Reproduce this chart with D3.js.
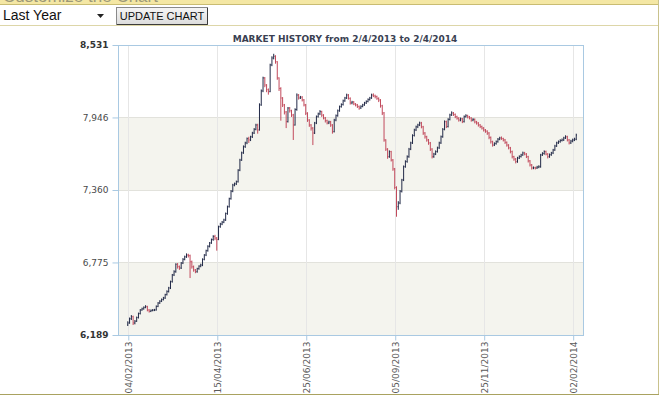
<!DOCTYPE html>
<html>
<head>
<meta charset="utf-8">
<script src="https://cdn.jsdelivr.net/npm/d3@7"></script>
<style>
  body { margin: 0; background: #fff; overflow: hidden; }
  svg { display: block; }
</style>
</head>
<body>
<svg id="market-history"></svg>
<script>
////////////////////////////////////////////////////////////////////////////////
/////////////////////////////////////////////////////////////////// Chart values
////////////////////////////////////////////////////////////////////////////////

// Title of the chart
const chartTitle = "MARKET HISTORY from 2/4/2013 to 2/4/2014";

// Tick labels (x is a trading-day index, not calendar time)
const xTickIndex = [0, 50, 100, 150, 200, 250];
const xTickLabels = ["04/02/2013", "15/04/2013", "25/06/2013", "05/09/2013", "25/11/2013", "02/02/2014"];
const yTickValues = [6189, 6775, 7360, 7946, 8531];

// Daily bars
const openValues = [
  6270,6286,6320,6337,6286,6300,6330,6362,6391,6400,
  6412,6418,6391,6380,6388,6390,6391,6420,6447,6462,
  6475,6488,6515,6540,6569,6620,6674,6700,6760,6741,
  6730,6770,6800,6820,6835,6830,6781,6740,6714,6700,
  6725,6745,6754,6800,6835,6870,6905,6932,6960,6985,
  6972,6960,7064,7085,7100,7118,7170,7225,7290,7350,
  7400,7410,7427,7520,7602,7660,7710,7740,7775,7764,
  7790,7820,7850,7885,7845,8047,8160,8265,8208,8170,
  8154,8370,8426,8440,8396,8265,8180,8103,8047,7990,
  7912,8022,8000,7966,7885,8010,8127,8103,8110,8087,
  8047,7980,7925,7885,7860,7820,7901,7952,7975,7993,
  7965,7941,7920,7901,7910,7885,7831,7925,7960,8000,
  8033,8050,8080,8103,8127,8100,8063,8070,8055,8047,
  8035,8022,8035,8047,8063,8075,8090,8103,8127,8120,
  8114,8100,8087,8040,7982,7764,7690,7629,7670,7602,
  7530,7380,7225,7255,7350,7441,7548,7590,7629,7690,
  7740,7800,7845,7870,7885,7901,7870,7820,7790,7764,
  7740,7690,7629,7650,7670,7700,7740,7790,7850,7912,
  7872,7930,7966,7982,7970,7952,7940,7925,7935,7912,
  7952,7960,7950,7941,7925,7930,7910,7901,7885,7872,
  7860,7845,7835,7820,7785,7750,7723,7735,7750,7770,
  7780,7775,7764,7745,7723,7700,7670,7629,7610,7589,
  7618,7630,7643,7659,7650,7629,7595,7562,7538,7540,
  7538,7545,7548,7643,7655,7670,7650,7629,7645,7659,
  7683,7715,7740,7750,7760,7764,7780,7790,7764,7740,
  7755,7764,7770
];
const highValues = [
  6300,6330,6350,6345,6310,6338,6370,6398,6410,6420,
  6430,6425,6398,6395,6398,6400,6428,6455,6470,6484,
  6497,6522,6550,6578,6628,6682,6712,6768,6770,6750,
  6778,6810,6830,6848,6845,6838,6790,6750,6722,6732,
  6752,6765,6808,6842,6878,6914,6940,6968,6995,6998,
  6980,7072,7095,7110,7128,7178,7234,7298,7360,7410,
  7420,7436,7528,7612,7670,7720,7750,7784,7790,7798,
  7830,7860,7895,7895,8060,8172,8275,8272,8215,8180,
  8380,8440,8460,8448,8400,8270,8190,8110,8055,7998,
  8030,8030,8008,7975,8020,8140,8135,8120,8118,8095,
  8055,7988,7932,7892,7868,7910,7962,7985,8005,8000,
  7972,7950,7928,7920,7918,7892,7935,7970,8010,8042,
  8060,8090,8112,8138,8135,8108,8080,8078,8062,8055,
  8042,8044,8056,8072,8084,8100,8112,8138,8140,8130,
  8122,8108,8094,8048,7990,7770,7698,7680,7676,7610,
  7538,7390,7270,7360,7450,7558,7600,7640,7700,7750,
  7810,7855,7880,7895,7912,7910,7878,7828,7798,7772,
  7748,7698,7660,7680,7710,7750,7800,7860,7922,7920,
  7940,7976,7995,7990,7978,7960,7948,7945,7942,7962,
  7972,7968,7958,7948,7940,7938,7918,7908,7892,7880,
  7868,7852,7842,7828,7792,7758,7745,7760,7780,7790,
  7792,7782,7772,7752,7730,7708,7678,7636,7618,7628,
  7640,7652,7670,7668,7658,7636,7602,7570,7550,7548,
  7555,7560,7652,7665,7680,7678,7658,7655,7668,7692,
  7725,7750,7760,7770,7776,7790,7802,7798,7772,7765,
  7775,7782,7815
];
const lowValues = [
  6262,6280,6310,6270,6275,6295,6322,6355,6385,6394,
  6405,6380,6370,6374,6380,6382,6386,6414,6440,6455,
  6468,6480,6508,6532,6560,6612,6665,6692,6725,6715,
  6722,6762,6792,6812,6815,6649,6725,6700,6688,6692,
  6716,6736,6745,6792,6826,6862,6896,6925,6950,6955,
  6870,6955,7055,7076,7092,7110,7160,7218,7282,7342,
  7390,7400,7420,7512,7595,7652,7700,7730,7740,7755,
  7780,7812,7842,7815,7840,8040,8150,8190,8150,8130,
  8150,8360,8415,8380,8250,8160,7920,8030,7970,7860,
  7905,7985,7950,7764,7880,8000,8090,8095,8075,8035,
  7965,7910,7870,7840,7723,7812,7892,7945,7965,7950,
  7930,7905,7890,7892,7870,7815,7825,7915,7952,7992,
  8025,8042,8072,8095,8090,8050,8052,8045,8035,8022,
  8008,8015,8028,8040,8055,8068,8082,8096,8110,8100,
  8088,8070,8025,7965,7750,7675,7612,7620,7590,7515,
  7365,7144,7200,7245,7340,7432,7540,7580,7620,7682,
  7732,7792,7836,7860,7876,7858,7805,7775,7750,7725,
  7675,7615,7620,7642,7662,7692,7732,7782,7842,7860,
  7865,7922,7958,7958,7940,7928,7912,7915,7900,7905,
  7945,7938,7930,7912,7915,7898,7888,7872,7860,7848,
  7832,7822,7805,7770,7735,7710,7715,7726,7742,7762,
  7765,7752,7732,7710,7688,7656,7615,7596,7575,7580,
  7610,7622,7636,7640,7618,7582,7550,7525,7528,7526,
  7530,7536,7540,7635,7645,7640,7615,7620,7636,7650,
  7676,7708,7732,7742,7752,7756,7772,7752,7728,7732,
  7745,7755,7762
];
const closeValues = [
  6286,6320,6337,6286,6300,6330,6362,6391,6400,6412,
  6418,6391,6380,6388,6390,6391,6420,6447,6462,6475,
  6488,6515,6540,6569,6620,6674,6700,6760,6741,6730,
  6770,6800,6820,6835,6830,6781,6740,6714,6700,6725,
  6745,6754,6800,6835,6870,6905,6932,6960,6985,6972,
  6960,7064,7085,7100,7118,7170,7225,7290,7350,7400,
  7410,7427,7520,7602,7660,7710,7740,7775,7764,7790,
  7820,7850,7885,7845,8047,8160,8265,8208,8170,8154,
  8370,8426,8440,8396,8265,8180,8103,8047,7990,7912,
  8022,8000,7966,7885,8010,8127,8103,8110,8087,8047,
  7980,7925,7885,7860,7820,7901,7952,7975,7993,7965,
  7941,7920,7901,7910,7885,7831,7925,7960,8000,8033,
  8050,8080,8103,8127,8100,8063,8070,8055,8047,8035,
  8022,8035,8047,8063,8075,8090,8103,8127,8120,8114,
  8100,8087,8040,7982,7764,7690,7629,7670,7602,7530,
  7380,7225,7255,7350,7441,7548,7590,7629,7690,7740,
  7800,7845,7870,7885,7901,7870,7820,7790,7764,7740,
  7690,7629,7650,7670,7700,7740,7790,7850,7912,7872,
  7930,7966,7982,7970,7952,7940,7925,7935,7912,7952,
  7960,7950,7941,7925,7930,7910,7901,7885,7872,7860,
  7845,7835,7820,7785,7750,7723,7735,7750,7770,7780,
  7775,7764,7745,7723,7700,7670,7629,7610,7589,7618,
  7630,7643,7659,7650,7629,7595,7562,7538,7540,7538,
  7545,7548,7643,7655,7670,7650,7629,7645,7659,7683,
  7715,7740,7750,7760,7764,7780,7790,7764,7740,7755,
  7764,7770,7804
];

////////////////////////////////////////////////////////////////////////////////
////////////////////////////////////////////////////////////////// Page chrome
////////////////////////////////////////////////////////////////////////////////

const svg = d3.select("#market-history")
              .attr("width", 670)
              .attr("height", 406);

// yellow header strip, its text is cut off by the top of the window
svg.append("rect")
     .attr("x", 0).attr("y", 0)
     .attr("width", 659).attr("height", 4)
     .attr("fill", "#f4e7a4");
svg.append("text")
     .attr("x", 3).attr("y", 2)
     .style("font-family", "Arial, 'Liberation Sans', sans-serif")
     .style("font-size", "17px")
     .attr("fill", "#9c9878")
     .text("Customize the Chart");
svg.append("line")
     .attr("x1", 0).attr("x2", 659).attr("y1", 4.5).attr("y2", 4.5)
     .attr("stroke", "#c9bc72");
svg.append("line")
     .attr("x1", 0).attr("x2", 659).attr("y1", 25.5).attr("y2", 25.5)
     .attr("stroke", "#ddd6a8");
svg.append("line")
     .attr("x1", 658.5).attr("x2", 658.5).attr("y1", 0).attr("y2", 394.5)
     .attr("stroke", "#c9c28c");
svg.append("line")
     .attr("x1", 0).attr("x2", 659).attr("y1", 394.5).attr("y2", 394.5)
     .attr("stroke", "#a9a260");

// period dropdown
svg.append("text")
     .attr("x", 3).attr("y", 20)
     .style("font-family", "Arial, 'Liberation Sans', sans-serif")
     .style("font-size", "14px")
     .attr("fill", "#111")
     .text("Last Year");
svg.append("path")
     .attr("d", "M97,14 h7 l-3.5,4 z")
     .attr("fill", "#222");

// update button
const btnGrad = svg.append("defs").append("linearGradient")
                     .attr("id", "btn-grad")
                     .attr("x1", 0).attr("x2", 0).attr("y1", 0).attr("y2", 1);
btnGrad.append("stop").attr("offset", "0%").attr("stop-color", "#f6f6f6");
btnGrad.append("stop").attr("offset", "100%").attr("stop-color", "#dcdcdc");
svg.append("rect")
     .attr("x", 116.5).attr("y", 7.5)
     .attr("width", 91).attr("height", 17)
     .attr("fill", "url(#btn-grad)")
     .attr("stroke", "#8a8a8a");
svg.append("path")
     .attr("d", "M117,24.5 H207.5 V8")
     .attr("fill", "none")
     .attr("stroke", "#3c3c3c");
svg.append("text")
     .attr("x", 162).attr("y", 20)
     .style("font-family", "Arial, 'Liberation Sans', sans-serif")
     .style("font-size", "11px")
     .style("text-anchor", "middle")
     .attr("fill", "#111")
     .text("UPDATE CHART");

////////////////////////////////////////////////////////////////////////////////
///////////////////////////////////////////////////////////////// OHLC chart
////////////////////////////////////////////////////////////////////////////////

const plot = { left: 118, right: 583, top: 45, bottom: 335 };

const xScale = d3.scaleLinear()
                 .domain([-5.5, 255.8])
                 .range([plot.left, plot.right]);
const yScale = d3.scaleLinear()
                 .domain([yTickValues[0], yTickValues[yTickValues.length - 1]])
                 .range([plot.bottom, plot.top]);

const chart = svg.append("g").attr("class", "chart");

// shaded bands, every other interval starting at the bottom
const bands = d3.pairs(yTickValues).filter(function(d, i) { return i % 2 === 0; });
chart.selectAll(".band")
  .data(bands)
  .join("rect")
    .attr("class", "band")
    .attr("x", plot.left)
    .attr("width", plot.right - plot.left)
    .attr("y", function(d) { return yScale(d[1]); })
    .attr("height", function(d) { return yScale(d[0]) - yScale(d[1]); })
    .attr("fill", "#f4f4ee");

// grid
chart.selectAll(".hgrid")
  .data(yTickValues)
  .join("line")
    .attr("class", "hgrid")
    .attr("x1", plot.left).attr("x2", plot.right)
    .attr("y1", function(d) { return Math.round(yScale(d)) + 0.5; })
    .attr("y2", function(d) { return Math.round(yScale(d)) + 0.5; })
    .attr("stroke", "#e2e2dc");
chart.selectAll(".vgrid")
  .data(xTickIndex)
  .join("line")
    .attr("class", "vgrid")
    .attr("x1", function(d) { return Math.round(xScale(d)) + 0.5; })
    .attr("x2", function(d) { return Math.round(xScale(d)) + 0.5; })
    .attr("y1", plot.top).attr("y2", plot.bottom)
    .attr("stroke", "#e6e6e6");

// axes
const yAxis = d3.axisLeft(yScale)
                .tickValues(yTickValues)
                .tickSize(6)
                .tickPadding(4)
                .tickFormat(d3.format(","));
const yAxisG = chart.append("g")
                      .attr("transform", `translate(${plot.left + 0.5},0)`)
                      .call(yAxis);
const xAxis = d3.axisBottom(xScale)
                .tickValues(xTickIndex)
                .tickSize(5)
                .tickFormat(function(d, i) { return xTickLabels[i]; });
const xAxisG = chart.append("g")
                      .attr("transform", `translate(0,${plot.bottom + 0.5})`)
                      .call(xAxis);

[yAxisG, xAxisG].forEach(function(g) {
  g.select(".domain").remove();
  g.selectAll(".tick line").attr("stroke", "#a9c9e2");
  g.selectAll(".tick text")
     .style("font-family", "'DejaVu Sans', Verdana, sans-serif")
     .style("font-size", "9px");
});
yAxisG.selectAll(".tick text")
        .attr("fill", function(d, i) {
          return (i === 0 || i === yTickValues.length - 1) ? "#333" : "#4a4a4a";
        })
        .style("font-weight", function(d, i) {
          return (i === 0 || i === yTickValues.length - 1) ? "bold" : "normal";
        });
xAxisG.selectAll(".tick line")
        .attr("x1", 0.5).attr("x2", 0.5);
xAxisG.selectAll(".tick text")
        .attr("fill", "#5a5a5a")
        .attr("transform", "rotate(-90)")
        .attr("x", -6)
        .attr("y", 0.5)
        .attr("dy", "0.35em")
        .style("text-anchor", "end");

// plot frame
chart.append("rect")
       .attr("x", plot.left + 0.5).attr("y", plot.top + 0.5)
       .attr("width", plot.right - plot.left).attr("height", plot.bottom - plot.top)
       .attr("fill", "none")
       .attr("stroke", "#a9c9e2");

// title
chart.append("text")
       .attr("x", 345).attr("y", 42)
       .style("font-family", "'DejaVu Sans', Verdana, sans-serif")
       .style("font-size", "9px")
       .style("font-weight", "bold")
       .style("text-anchor", "middle")
       .attr("fill", "#3a3f52")
       .text(chartTitle);

// bars
const bars = d3.range(closeValues.length).map(function(i) {
  return { i: i, o: openValues[i], h: highValues[i], l: lowValues[i], c: closeValues[i] };
});
chart.selectAll(".bar")
  .data(bars)
  .join("path")
    .attr("class", "bar")
    .attr("fill", "none")
    .attr("stroke-width", 1)
    .attr("stroke", function(d) { return d.c >= d.o ? "#222a48" : "#c24a5c"; })
    .attr("d", function(d) {
      const x = xScale(d.i);
      return `M${x},${yScale(d.h)}V${yScale(d.l)}` +
             `M${x - 0.7},${yScale(d.o)}H${x}` +
             `M${x},${yScale(d.c)}H${x + 0.7}`;
    });
</script>
</body>
</html>
